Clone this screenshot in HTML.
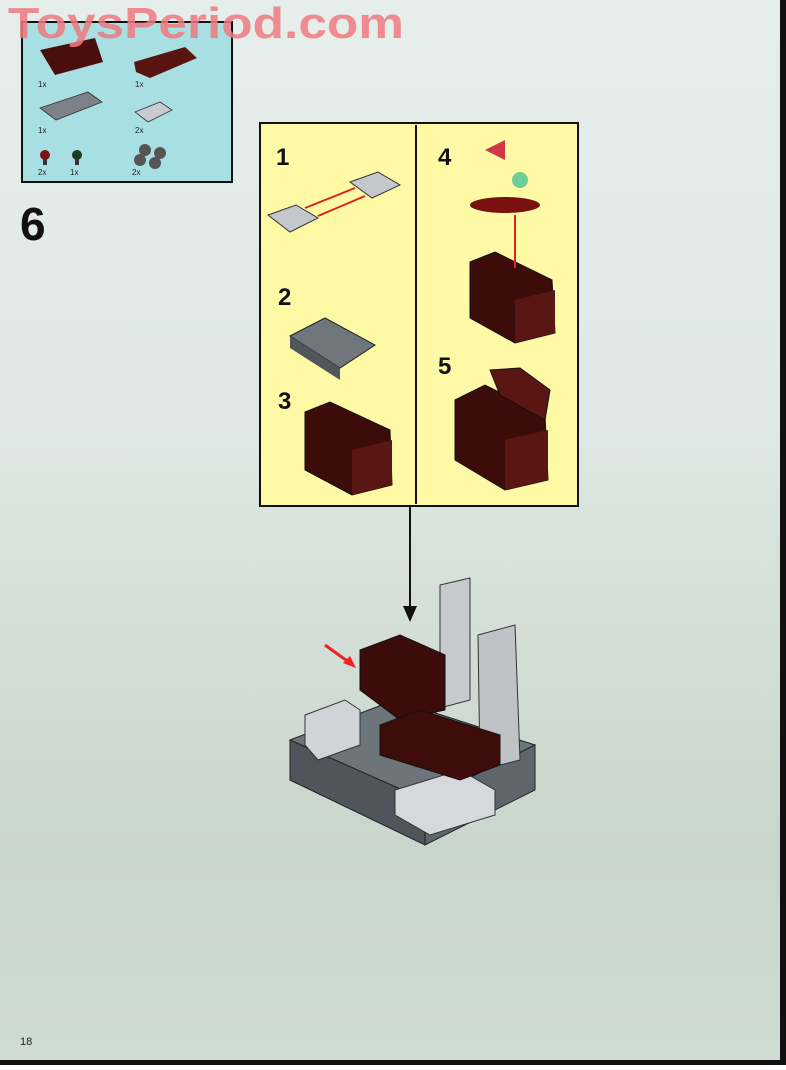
<!DOCTYPE html>
<html><head><meta charset="utf-8"><style>
html,body{margin:0;padding:0}
body{width:786px;height:1065px;overflow:hidden;font-family:"Liberation Sans",sans-serif}
</style></head><body>
<svg width="786" height="1065" viewBox="0 0 786 1065" xmlns="http://www.w3.org/2000/svg">
<defs>
<linearGradient id="bg" x1="0" y1="0" x2="0" y2="1">
<stop offset="0" stop-color="#e6eeec"/>
<stop offset="0.4" stop-color="#dfe8e4"/>
<stop offset="0.6" stop-color="#d3ded6"/>
<stop offset="0.8" stop-color="#c9d6cc"/>
<stop offset="1" stop-color="#cfdcd2"/>
</linearGradient>
</defs>
<rect width="786" height="1065" fill="url(#bg)"/>
<!-- page edge -->
<rect x="780" y="0" width="6" height="1065" fill="#111"/>
<rect x="0" y="1060" width="786" height="5" fill="#111"/>
<!-- parts box -->
<rect x="22" y="22" width="210" height="160" fill="#a8dfe2" stroke="#111" stroke-width="2"/>
<path d="M40 50 L95 38 L103 62 L55 75 Z" fill="#4a0f0c"/>
<path d="M134 62 L185 47 L197 58 L150 78 L136 72 Z" fill="#5a1410"/>
<text x="38" y="87" font-size="8" fill="#222">1x</text>
<text x="135" y="87" font-size="8" fill="#222">1x</text>
<path d="M40 108 L88 92 L102 102 L56 120 Z" fill="#7c8288" stroke="#333" stroke-width="0.8"/>
<text x="38" y="133" font-size="8" fill="#222">1x</text>
<path d="M135 112 L160 102 L172 110 L148 122 Z" fill="#c8ccd0" stroke="#333" stroke-width="0.8"/>
<text x="135" y="133" font-size="8" fill="#222">2x</text>
<circle cx="45" cy="155" r="5" fill="#7a1414"/><rect x="43" y="159" width="4" height="6" fill="#333"/>
<circle cx="77" cy="155" r="5" fill="#1e3a22"/><rect x="75" y="159" width="4" height="6" fill="#333"/>
<text x="38" y="175" font-size="8" fill="#222">2x</text>
<text x="70" y="175" font-size="8" fill="#222">1x</text>
<circle cx="145" cy="150" r="6" fill="#555"/><circle cx="160" cy="153" r="6" fill="#555"/><circle cx="140" cy="160" r="6" fill="#555"/><circle cx="155" cy="163" r="6" fill="#555"/>
<text x="132" y="175" font-size="8" fill="#222">2x</text>
<!-- watermark -->
<text x="8" y="38" font-size="44" font-weight="bold" fill="#f07a80" opacity="0.85" textLength="396" lengthAdjust="spacingAndGlyphs">ToysPeriod.com</text>
<!-- step number -->
<text x="20" y="240" font-size="46" font-weight="bold" fill="#111">6</text>
<!-- yellow box -->
<rect x="260" y="123" width="318" height="383" fill="#fdf9a4" stroke="#111" stroke-width="2"/>
<line x1="416" y1="125" x2="416" y2="504" stroke="#111" stroke-width="2"/>
<g font-size="24" font-weight="bold" fill="#111">
<text x="276" y="165">1</text><text x="438" y="165">4</text>
<text x="278" y="305">2</text><text x="278" y="409">3</text><text x="438" y="374">5</text>
</g>
<!-- step1 -->
<path d="M268 215 L296 205 L318 218 L290 232 Z" fill="#c4c8cc" stroke="#333"/>
<path d="M350 182 L378 172 L400 185 L372 198 Z" fill="#c4c8cc" stroke="#333"/>
<line x1="355" y1="188" x2="305" y2="208" stroke="#d22" stroke-width="2"/>
<line x1="365" y1="196" x2="318" y2="216" stroke="#d22" stroke-width="2"/>
<!-- step2 -->
<path d="M290 336 L325 318 L375 345 L340 368 Z" fill="#6f767c" stroke="#222"/>
<path d="M290 336 L340 368 L340 380 L290 348 Z" fill="#50565c"/>
<!-- step3 / 4 / 5 chests -->
<path d="M305 412 L330 402 L390 430 L392 485 L352 495 L305 470 Z" fill="#3c0c0a" stroke="#111"/>
<path d="M352 450 L392 440 L392 485 L352 495 Z" fill="#5a1612"/>
<path d="M470 262 L495 252 L552 280 L555 333 L515 343 L470 318 Z" fill="#3c0c0a" stroke="#111"/>
<path d="M515 300 L555 290 L555 333 L515 343 Z" fill="#5a1612"/>
<path d="M485 150 L505 140 L505 160 Z" fill="#d0384a"/>
<ellipse cx="505" cy="205" rx="35" ry="8" fill="#7a1010"/>
<circle cx="520" cy="180" r="8" fill="#6fcf96"/>
<line x1="515" y1="215" x2="515" y2="268" stroke="#d22" stroke-width="2"/>
<path d="M455 400 L485 385 L545 415 L548 480 L505 490 L455 460 Z" fill="#3c0c0a" stroke="#111"/>
<path d="M490 370 L520 368 L550 390 L545 420 L500 395 Z" fill="#5a1612" stroke="#111"/>
<path d="M505 440 L548 430 L548 480 L505 490 Z" fill="#5a1612"/>
<!-- arrow -->
<line x1="410" y1="506" x2="410" y2="610" stroke="#111" stroke-width="2"/>
<path d="M403 606 L410 622 L417 606 Z" fill="#111"/>
<!-- model -->
<path d="M290 740 L395 700 L535 745 L425 800 Z" fill="#6e757a" stroke="#222"/>
<path d="M290 740 L425 800 L425 845 L290 780 Z" fill="#4f555a" stroke="#222"/>
<path d="M425 800 L535 745 L535 790 L425 845 Z" fill="#5f666b" stroke="#222"/>
<path d="M395 790 L460 770 L495 790 L495 815 L430 835 L395 815 Z" fill="#d6d9dc" stroke="#333"/>
<path d="M440 585 L470 578 L470 700 L440 708 Z" fill="#c7cbce" stroke="#333"/>
<path d="M478 635 L515 625 L520 760 L480 770 Z" fill="#bfc3c6" stroke="#333"/>
<path d="M305 715 L345 700 L360 710 L360 745 L318 760 L305 745 Z" fill="#d0d4d7" stroke="#333"/>
<path d="M360 650 L400 635 L445 655 L445 710 L400 720 L360 690 Z" fill="#3c0c0a" stroke="#111"/>
<path d="M380 725 L420 710 L500 735 L500 765 L460 780 L380 755 Z" fill="#3e0d0b" stroke="#111"/>
<line x1="325" y1="645" x2="350" y2="663" stroke="#e22" stroke-width="3"/>
<path d="M343 663 L356 668 L350 656 Z" fill="#e22"/>
<text x="20" y="1045" font-size="11" fill="#222">18</text>
</svg>
</body></html>
